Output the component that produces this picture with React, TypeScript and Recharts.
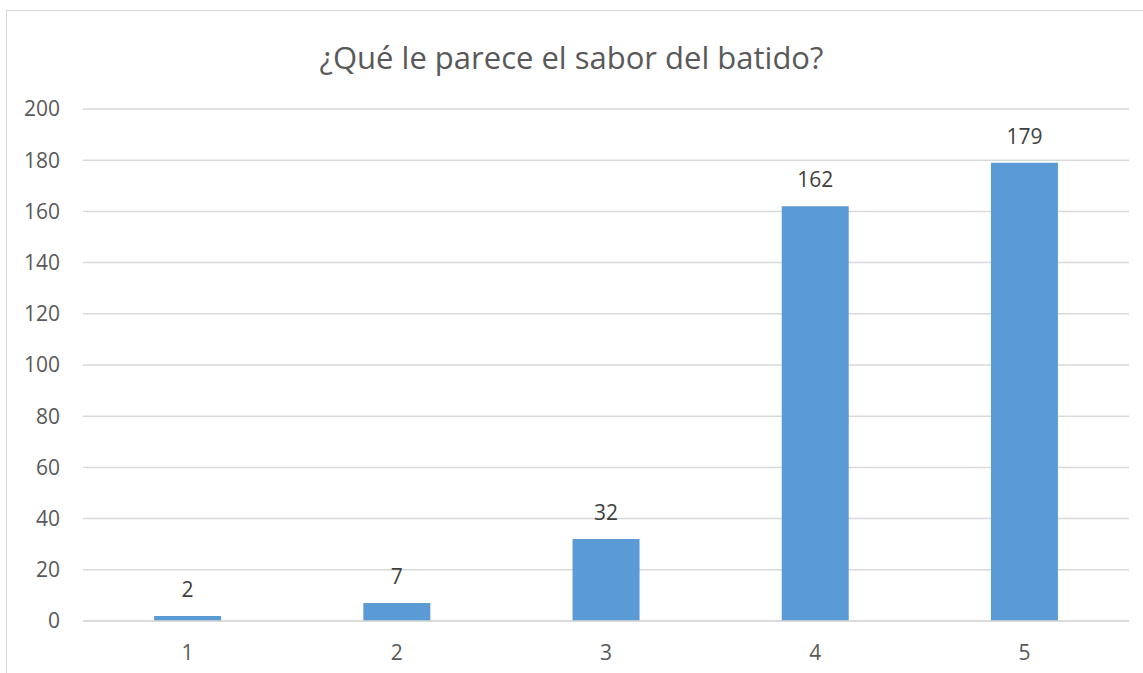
import React from "react";
import { BarChart, Bar, XAxis, YAxis, CartesianGrid, LabelList } from "recharts";

const categories = ["1", "2", "3", "4", "5"];
const counts = [2, 7, 32, 162, 179];
const yTicks = [0, 20, 40, 60, 80, 100, 120, 140, 160, 180, 200];
const title = "¿Qué le parece el sabor del batido?";

const data = categories.map((c, i) => ({ name: c, value: counts[i] }));

const FONT = "'Open Sans', 'Liberation Sans', sans-serif";

export default function App() {
  return (
    <div style={{ position: "absolute", left: 0, top: 0, width: 1143, height: 673, overflow: "hidden", background: "#fff", fontFamily: FONT }}>
      <div style={{ position: "absolute", left: 6, top: 10, width: 1160, height: 700, border: "1px solid #d9d9d9", boxSizing: "border-box" }} />
      <div style={{ position: "absolute", left: 0, top: 36, width: 1143, textAlign: "center", fontSize: 31, color: "#595959", lineHeight: "42px", whiteSpace: "nowrap" }}>
        {title}
      </div>
      <div style={{ position: "absolute", left: 0, top: 0 }}>
        <BarChart width={1143} height={673} data={data} margin={{ top: 109, right: 14, left: 0, bottom: 0 }} barCategoryGap="34%">
          <CartesianGrid vertical={false} stroke="#d9d9d9" strokeWidth={1.5} />
          <XAxis dataKey="name" height={52} tickLine={false} axisLine={{ stroke: "#d9d9d9", strokeWidth: 1.5 }} tickMargin={18} tick={{ fill: "#595959", fontSize: 21, fontFamily: FONT }} />
          <YAxis width={83} domain={[0, 200]} ticks={yTicks} interval={0} tickLine={false} axisLine={false} tickMargin={17} tick={{ fill: "#595959", fontSize: 21, fontFamily: FONT }} />
          <Bar dataKey="value" fill="#5b9bd5" isAnimationActive={false}>
            <LabelList dataKey="value" position="top" offset={19} fill="#404040" fontSize={21} fontFamily={FONT} />
          </Bar>
        </BarChart>
      </div>
    </div>
  );
}
